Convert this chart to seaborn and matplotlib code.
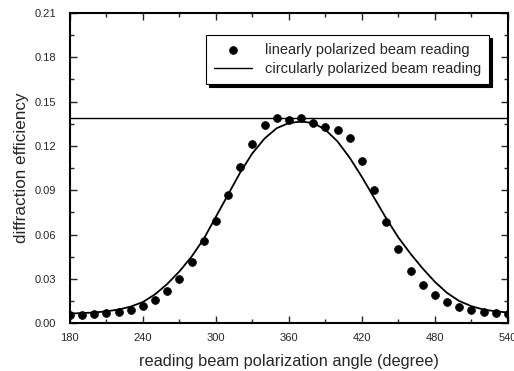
import numpy as np
import pandas as pd
import matplotlib
matplotlib.use("Agg")
import matplotlib.pyplot as plt
from matplotlib.ticker import MultipleLocator, FormatStrFormatter
import seaborn as sns

# reading beam polarization angle (degree)
angle = list(range(180, 550, 10))

# measured diffraction efficiency, linearly polarized reading beam
linear_eff = [0.0056, 0.0058, 0.0063, 0.0068, 0.0077, 0.0092, 0.0115, 0.0160, 0.0218, 0.0300,
              0.0413, 0.0555, 0.0694, 0.0868, 0.1058, 0.1210, 0.1340, 0.1387, 0.1373, 0.1387,
              0.1357, 0.1328, 0.1306, 0.1252, 0.1099, 0.0901, 0.0688, 0.0499, 0.0353, 0.0256,
              0.0189, 0.0140, 0.0110, 0.0088, 0.0074, 0.0067, 0.0061]

# fitted curve through the linear data
fit_eff = [0.0065, 0.0068, 0.0072, 0.0080, 0.0092, 0.0112, 0.0143, 0.0195, 0.0265, 0.0350,
           0.0450, 0.0570, 0.0720, 0.0870, 0.1020, 0.1150, 0.1250, 0.1320, 0.1355, 0.1365,
           0.1355, 0.1310, 0.1230, 0.1120, 0.0990, 0.0850, 0.0710, 0.0580, 0.0470, 0.0370,
           0.0280, 0.0205, 0.0150, 0.0115, 0.0092, 0.0080, 0.0072]

# circularly polarized reading beam gives a constant efficiency
circular_eff = 0.139

df = pd.DataFrame({"angle": angle, "linear": linear_eff, "fit": fit_eff})

sns.set_style("ticks")
plt.rcParams["font.family"] = ["Liberation Sans", "DejaVu Sans"]

fig = plt.figure(figsize=(5.14, 3.71), dpi=100)
ax = fig.add_axes([0.136, 0.129, 0.852, 0.836])

sns.lineplot(x="angle", y="fit", data=df, ax=ax, color="black", linewidth=1.3, legend=False)
sns.scatterplot(x="angle", y="linear", data=df, ax=ax, color="black", s=32, edgecolor="black",
                linewidth=0.5, label="linearly polarized beam reading", zorder=3)
ax.axhline(circular_eff, color="black", linewidth=1.0, label="circularly polarized beam reading")

ax.set_xlim(180, 540)
ax.set_ylim(0, 0.21)
ax.xaxis.set_major_locator(MultipleLocator(60))
ax.xaxis.set_minor_locator(MultipleLocator(30))
ax.yaxis.set_major_locator(MultipleLocator(0.03))
ax.yaxis.set_minor_locator(MultipleLocator(0.015))
ax.yaxis.set_major_formatter(FormatStrFormatter("%.2f"))
ax.tick_params(which="both", direction="in", top=True, right=True, width=1.0, labelsize=8)
ax.tick_params(axis="x", which="major", pad=7)
ax.tick_params(axis="y", which="major", pad=10)
ax.tick_params(which="major", length=5)
ax.tick_params(which="minor", length=3)
for sp in ax.spines.values():
    sp.set_linewidth(1.5)
    sp.set_color("black")

ax.set_xlabel("reading beam polarization angle (degree)", fontsize=11.8, labelpad=8)
ax.set_ylabel("diffraction efficiency", fontsize=12.3, labelpad=4)

leg = ax.legend(loc="upper left", bbox_to_anchor=(0.2945, 0.952), fontsize=10.5, frameon=True,
                fancybox=False, edgecolor="black", framealpha=1,
                shadow={"color": "black", "alpha": 1.0},
                handlelength=2.6, handletextpad=0.9, borderpad=0.55, labelspacing=0.35)
leg.get_frame().set_linewidth(0.8)

fig.savefig("out.png", dpi=100)
